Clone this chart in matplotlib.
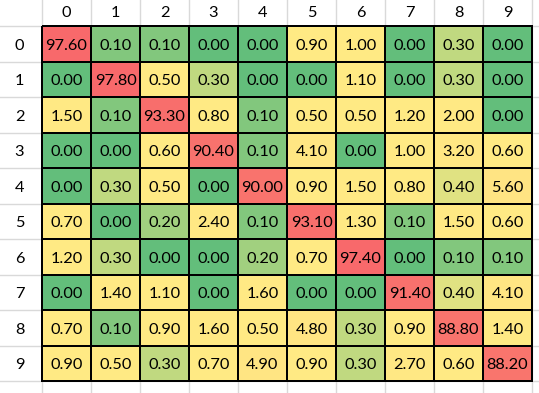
import numpy as np
import matplotlib
matplotlib.use("Agg")
import matplotlib.pyplot as plt
from matplotlib.colors import LinearSegmentedColormap, TwoSlopeNorm

labels = [str(i) for i in range(10)]
row0 = [97.60, 0.10, 0.10, 0.00, 0.00, 0.90, 1.00, 0.00, 0.30, 0.00]
row1 = [0.00, 97.80, 0.50, 0.30, 0.00, 0.00, 1.10, 0.00, 0.30, 0.00]
row2 = [1.50, 0.10, 93.30, 0.80, 0.10, 0.50, 0.50, 1.20, 2.00, 0.00]
row3 = [0.00, 0.00, 0.60, 90.40, 0.10, 4.10, 0.00, 1.00, 3.20, 0.60]
row4 = [0.00, 0.30, 0.50, 0.00, 90.00, 0.90, 1.50, 0.80, 0.40, 5.60]
row5 = [0.70, 0.00, 0.20, 2.40, 0.10, 93.10, 1.30, 0.10, 1.50, 0.60]
row6 = [1.20, 0.30, 0.00, 0.00, 0.20, 0.70, 97.40, 0.00, 0.10, 0.10]
row7 = [0.00, 1.40, 1.10, 0.00, 1.60, 0.00, 0.00, 91.40, 0.40, 4.10]
row8 = [0.70, 0.10, 0.90, 1.60, 0.50, 4.80, 0.30, 0.90, 88.80, 1.40]
row9 = [0.90, 0.50, 0.30, 0.70, 4.90, 0.90, 0.30, 2.70, 0.60, 88.20]

data = np.array([row0, row1, row2, row3, row4, row5, row6, row7, row8, row9])

W, H = 539, 393
cw, ch = 49.0, 35.5
hx, hy = 42.0, 26.0

fig = plt.figure(figsize=(W / 100, H / 100), dpi=100)
fig.patch.set_facecolor("white")
ax = fig.add_axes([0, 0, 1, 1])
ax.set_xlim(-hx / cw, (W - hx) / cw)
ax.set_ylim((H - hy) / ch, -hy / ch)
ax.axis("off")

# light sheet grid
grid_c = "#D9D9D9"
xmax = (W - hx) / cw
ymax = (H - hy) / ch
for i in range(0, 12):
    ax.plot([i, i], [-hy / ch, ymax], color=grid_c, lw=1, zorder=0)
for j in range(0, 12):
    ax.plot([-hx / cw, xmax], [j, j], color=grid_c, lw=1, zorder=0)

cmap = LinearSegmentedColormap.from_list(
    "excel", ["#63BE7B", "#FFEB84", "#F8696B"])
norm = TwoSlopeNorm(vmin=data.min(), vcenter=np.percentile(data, 50), vmax=data.max())

xe = np.arange(11)
ye = np.arange(11)
ax.pcolormesh(xe, ye, data, cmap=cmap, norm=norm, edgecolors="black",
              linewidth=1.2, zorder=2)

font = "Lato"
fs = 11.8
for r in range(10):
    for c in range(10):
        ax.text(c + 0.5, r + 0.56, f"{data[r, c]:.2f}", ha="center", va="center",
                fontsize=fs, family=font, color="black", zorder=3)
for k, lab in enumerate(labels):
    ax.text(k + 0.5, -hy / ch / 2, lab, ha="center", va="center",
            fontsize=fs, family=font, color="black")
    ax.text(-hx / cw / 2 - 0.03, k + 0.56, lab, ha="center", va="center",
            fontsize=fs, family=font, color="black")

fig.savefig("out.png", dpi=100)
